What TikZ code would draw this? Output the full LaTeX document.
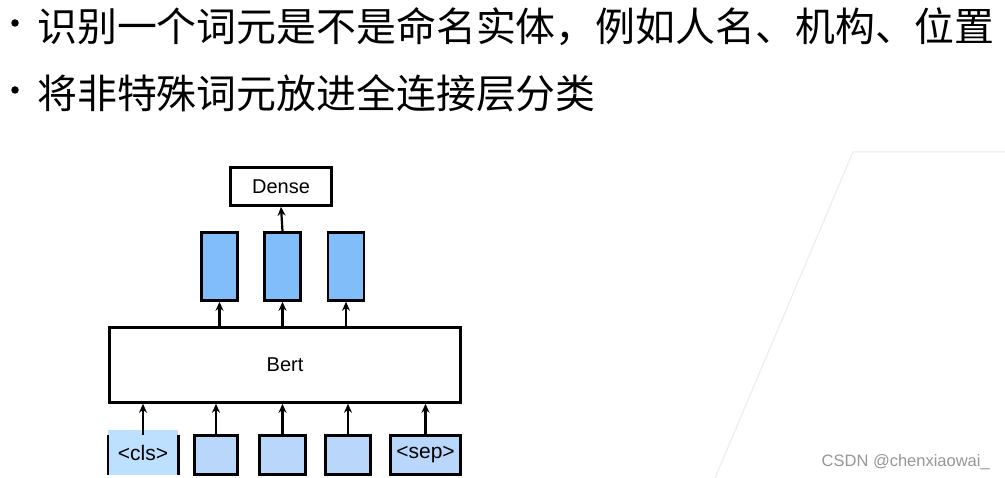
\documentclass[tikz,border=0pt]{standalone}
\usepackage{fontspec}
\setmainfont{Liberation Sans}
\newfontfamily\cjk{Noto Sans CJK SC}
\usetikzlibrary{arrows.meta}
\definecolor{tallblue}{RGB}{128,189,249}
\definecolor{tokblue}{RGB}{185,215,250}
\definecolor{clsblue}{RGB}{189,224,254}
\definecolor{bggrey}{RGB}{235,235,235}
\definecolor{wmgrey}{RGB}{150,150,150}
\begin{document}
\begin{tikzpicture}[x=1pt,y=-1pt,
  box/.style={draw=black, line width=2.6pt, inner sep=0pt, font=\fontsize{20}{24}\selectfont},
  tallbox/.style={box, fill=tallblue, minimum width=36pt, minimum height=68pt},
  tokbox/.style={box, fill=tokblue, minimum height=39pt, font=\fontsize{21}{24}\selectfont},
  arr/.style={draw=black, line width=2.2pt, -{Stealth[length=9pt,width=8pt]}},
  bullet/.style={circle, fill=black, inner sep=0pt, minimum size=7.5pt},
  cjktext/.style={anchor=west, inner sep=0pt, font=\cjk\fontsize{39.9}{46}\selectfont},
  bgline/.style={draw=bggrey, line width=1pt}
]
\useasboundingbox[fill=white] (0,0) rectangle (1005,478);
% background decoration
\coordinate (bgA) at (715,478);
\coordinate (bgB) at (853,152);
\coordinate (bgC) at (1005,152);
\draw[bgline] (bgA) -- (bgB) -- (bgC);

% bullet text
\node[bullet] (b1) at (15,23) {};
\node[cjktext] (l1) at (37,27) {识别一个词元是不是命名实体，例如人名、机构、位置};
\node[bullet] (b2) at (15,90) {};
\node[cjktext] (l2) at (37,93) {将非特殊词元放进全连接层分类};

% diagram
\node[box, fill=white, minimum width=101pt, minimum height=38pt] (dense) at (281,186.5) {Dense};
\node[tallbox] (h1) at (219.5,266.5) {};
\node[tallbox] (h2) at (282.5,266.5) {};
\node[tallbox] (h3) at (346,266.5) {};
\node[box, fill=white, minimum width=351pt, minimum height=75pt] (bert) at (285,365) {Bert};

\node[inner sep=0pt, fill=clsblue, minimum width=70pt, minimum height=45pt, font=\fontsize{21}{24}\selectfont] (cls) at (143,452.5) {\raisebox{-3pt}{<cls>}};
\draw[line width=2.6pt] ([yshift=-5pt]cls.north west) -- (cls.south west);
\draw[line width=2.6pt] ([yshift=-5pt]cls.north east) -- (cls.south east);
\node[tokbox, minimum width=43pt] (t2) at (216,455) {};
\node[tokbox, minimum width=46pt] (t3) at (282.5,455) {};
\node[tokbox, minimum width=45pt] (t4) at (348,455) {};
\node[tokbox, minimum width=70pt] (t5) at (425.5,455) {<sep>};

% connectors
\draw[arr] ([yshift=-5pt]cls.north) -- (cls.north |- bert.south);
\draw[arr] (t2.north) -- (t2.north |- bert.south);
\draw[arr] (t3.north) -- (t3.north |- bert.south);
\draw[arr] (t4.north) -- (t4.north |- bert.south);
\draw[arr] (t5.north) -- (t5.north |- bert.south);
\draw[arr] (bert.north -| h1.south) -- (h1.south);
\draw[arr] (bert.north -| h2.south) -- (h2.south);
\draw[arr] (bert.north -| h3.south) -- (h3.south);
\draw[arr] (h2.north) -- (dense.south);

% watermark
\node[anchor=east, inner sep=0pt, text=wmgrey, font=\fontsize{16.5}{20}\selectfont] (wm) at (990,462) {CSDN @chenxiaowai\_};
\end{tikzpicture}
\end{document}
